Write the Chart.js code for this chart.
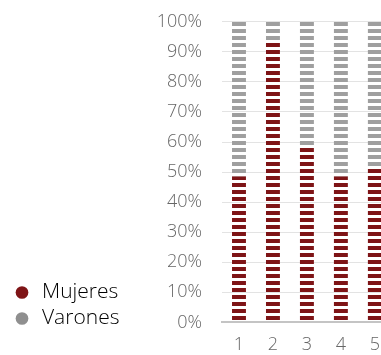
<!DOCTYPE html>
<html>
<head>
<meta charset="utf-8">
<script src="https://cdn.jsdelivr.net/npm/chart.js@4.4.1/dist/chart.umd.min.js"></script>
<style>
  html, body { margin: 0; padding: 0; background: #fff; overflow: hidden; }
  #wrap { width: 392px; height: 368px; position: relative; }
</style>
</head>
<body>
<div id="wrap"><canvas id="chart"></canvas></div>
<script>
// datos
const categorias = ["1", "2", "3", "4", "5"];
const mujeres = [48.5, 93, 58, 48.5, 51];
const varones = [51.5, 7, 42, 51.5, 49];

const rojo = "#7e1416";
const gris = "#9f9f9f";

// patron de franjas horizontales (periodo 7px, 4px de color)
function franjas(color) {
  const c = document.createElement("canvas");
  c.width = 4;
  c.height = 7;
  const g = c.getContext("2d");
  g.fillStyle = color;
  g.fillRect(0, 1, 4, 4);
  return g.createPattern(c, "repeat");
}

// sube la leyenda para que quede a la altura del eje
const subirLeyenda = {
  id: "subirLeyenda",
  afterLayout(chart) {
    chart.legend.bottom -= 34;
  },
};

Chart.defaults.font.family = "'Open Sans', 'Liberation Sans', sans-serif";
Chart.defaults.font.weight = "300";
Chart.defaults.color = "#666";

const ctx = document.getElementById("chart").getContext("2d");
new Chart(ctx, {
  type: "bar",
  data: {
    labels: categorias,
    datasets: [
      { label: "Mujeres", data: mujeres, backgroundColor: franjas(rojo), solid: rojo },
      { label: "Varones", data: varones, backgroundColor: franjas(gris), solid: "#8f8f8f" },
    ],
  },
  plugins: [subirLeyenda],
  options: {
    responsive: true,
    maintainAspectRatio: false,
    animation: false,
    barPercentage: 0.41,
    categoryPercentage: 1,
    layout: { padding: { left: 7.5, top: 8, right: 0, bottom: 0 } },
    plugins: {
      tooltip: { enabled: false },
      legend: {
        position: "left",
        align: "end",
        maxWidth: 140,
        labels: {
          usePointStyle: true,
          pointStyle: "circle",
          boxWidth: 19,
          boxHeight: 9,
          padding: 5,
          color: "#555",
          font: { size: 21 },
          generateLabels: function (chart) {
            return chart.data.datasets.map((ds, i) => ({
              text: ds.label,
              fillStyle: ds.solid,
              strokeStyle: ds.solid,
              lineWidth: 0,
              pointStyle: "circle",
              datasetIndex: i,
              hidden: false,
            }));
          },
        },
      },
    },
    scales: {
      x: {
        stacked: true,
        grid: { display: false, drawTicks: false },
        border: { color: "#c4c4c4", width: 2 },
        ticks: { font: { size: 18 }, padding: 12, color: "#666" },
      },
      y: {
        stacked: true,
        min: 0,
        max: 100,
        grid: { color: "#e3e3e3", lineWidth: 1, tickLength: 9, tickColor: "rgba(0,0,0,0)" },
        border: { display: false },
        ticks: {
          stepSize: 10,
          padding: 11,
          font: { size: 18 },
          color: "#666",
          callback: (v) => v + "%",
        },
        afterFit: function (scale) {
          // el area de barras empieza en x = 222
          scale.width = 222 - 7.5 - scale.chart.legend.width;
        },
      },
    },
  },
});
</script>
</body>
</html>
